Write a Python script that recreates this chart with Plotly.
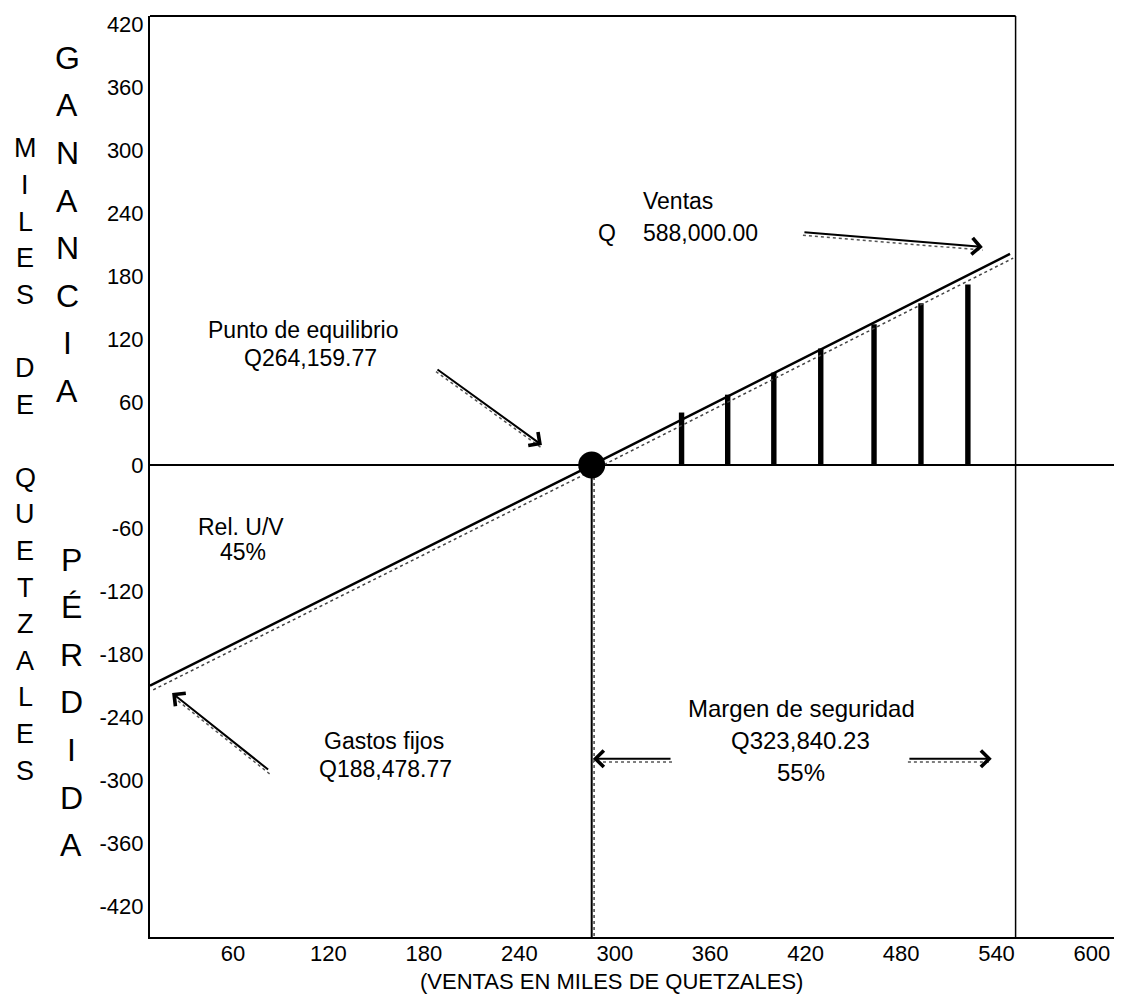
import plotly.graph_objects as go

# ejes
x_ticks = [60, 120, 180, 240, 300, 360, 420, 480, 540, 600]
y_ticks = [420, 360, 300, 240, 180, 120, 60, 0, -60, -120, -180, -240, -300, -360, -420]
x_rango = [7.8, 614.5]
y_rango = [-449.3, 427.5]

# linea de resultado (ganancia / perdida segun ventas)
linea_x = [7.8, 285.5, 548.5]
linea_y = [-210, 0, 201]

# punto de equilibrio y limite de ventas
punto_eq_x = 285.5
punto_eq_y = 0
limite_ventas_x = 552

# barras de ganancia
barras_x = [342, 371, 400, 429.5, 463, 492.5, 522]
barras_y = [50, 67, 88, 111, 134, 154, 172]

FUENTE = "Liberation Sans, Arial, sans-serif"

# la pagina tiene 8px de margen en el body, se compensa aqui
OFF = 8
W, H = 1114, 986
ML, MR, MT, MB = 142, 7, 4, 57
PW, PH = W - ML - MR, H - MT - MB


def paper(px, py):
    return (px - OFF - ML) / PW, (H - MB - (py - OFF)) / PH


fig = go.Figure()

fig.add_trace(go.Bar(x=barras_x, y=barras_y, width=3.4,
                     marker=dict(color='black', line=dict(width=0))))

# sombra punteada de la linea
fig.add_trace(go.Scatter(x=[v + 2 for v in linea_x], y=[v - 4 for v in linea_y],
                         mode='lines', line=dict(color='#444', width=1.5, dash='dot')))
fig.add_trace(go.Scatter(x=linea_x, y=linea_y, mode='lines',
                         line=dict(color='black', width=2.5)))

fig.add_trace(go.Scatter(x=[punto_eq_x + 1.5, punto_eq_x + 1.5], y=[punto_eq_y, y_rango[0]],
                         mode='lines', line=dict(color='#444', width=1.5, dash='dot')))
fig.add_trace(go.Scatter(x=[punto_eq_x, punto_eq_x], y=[punto_eq_y, y_rango[0]],
                         mode='lines', line=dict(color='black', width=2)))

fig.add_trace(go.Scatter(x=[punto_eq_x], y=[punto_eq_y], mode='markers',
                         marker=dict(size=27, color='black')))

shapes = [
    dict(type='line', xref='x', yref='paper', x0=limite_ventas_x, x1=limite_ventas_x,
         y0=0, y1=1, line=dict(color='black', width=1.5)),
    dict(type='line', xref='x', yref='paper', x0=x_rango[0], x1=limite_ventas_x,
         y0=1, y1=1, line=dict(color='black', width=2)),
]


def texto(x, y, t, size=23):
    return dict(x=x, y=y, xref='x', yref='y', text=t, showarrow=False,
                xanchor='center', yanchor='middle',
                font=dict(family=FUENTE, size=size, color='black'))


def flecha(xt, yt, xh, yh):
    shapes.append(dict(type='line', xref='x', yref='y', x0=xt, y0=yt - 3, x1=xh, y1=yh - 3,
                       line=dict(color='#555', width=1.5, dash='dot')))
    return dict(x=xh, y=yh, ax=xt, ay=yt, xref='x', yref='y', axref='x', ayref='y',
                text='', showarrow=True, arrowhead=4, arrowsize=1.6,
                arrowwidth=2, arrowcolor='black')


def letra(px, py, ch, size):
    x, y = paper(px, py)
    return dict(x=x, y=y, xref='paper', yref='paper', showarrow=False,
                xanchor='center', yanchor='middle', text=ch,
                font=dict(family=FUENTE, size=size, color='black'))


anotaciones = [
    texto(339.7, 251, 'Ventas'),
    texto(295, 221, 'Q'),
    texto(354, 221, '588,000.00'),
    flecha(418.3, 221.8, 531.4, 207.6),
    texto(104, 129, 'Punto de equilibrio'),
    texto(108.4, 102, 'Q264,159.77'),
    flecha(187.6, 92, 254.2, 19),
    texto(65, -59, 'Rel. U/V'),
    texto(66.3, -82.5, '45%'),
    texto(155, -262.6, 'Gastos fijos'),
    texto(156, -289, 'Q188,478.77'),
    flecha(83, -291, 21.7, -217),
    texto(417.6, -232, 'Margen de seguridad', 24),
    texto(417, -262.6, 'Q323,840.23', 24),
    texto(417, -292.9, '55%', 24),
    flecha(336, -279.6, 286.3, -279.6),
    flecha(484.3, -279.6, 537, -279.6),
]

# titulo eje x
anotaciones.append(letra(611, 982, '(VENTAS EN MILES DE QUETZALES)', 22))

# letras verticales
for i, ch in enumerate('MILES DE QUETZALES'):
    if ch != ' ':
        anotaciones.append(letra(25, 145 + i * 36.76, ch, 27))

for i, ch in enumerate('GANANCIA'):
    anotaciones.append(letra(67, 54 + i * 47.8, ch, 32))

for i, ch in enumerate('PÉRDIDA'):
    anotaciones.append(letra(71, 558 + i * 47.8, ch, 32))

fig.update_layout(
    width=W, height=H, autosize=False,
    margin=dict(l=ML, r=MR, t=MT, b=MB),
    plot_bgcolor='white', paper_bgcolor='white',
    showlegend=False,
    font=dict(family=FUENTE, color='black'),
    xaxis=dict(range=x_rango, tickvals=x_ticks, showgrid=False, zeroline=False,
               showline=True, linecolor='black', linewidth=2, ticks='',
               ticklabelstandoff=-4, ticklabeloverflow='allow',
               tickfont=dict(size=22, color='black')),
    yaxis=dict(range=y_rango, tickvals=y_ticks, ticktext=[str(v) for v in y_ticks],
               showgrid=False,
               zeroline=True, zerolinecolor='black', zerolinewidth=2,
               showline=True, linecolor='black', linewidth=2, ticks='',
               ticklabeloverflow='allow',
               tickfont=dict(size=22, color='black')),
    shapes=shapes,
    annotations=anotaciones,
)

fig.write_html("out.html")
